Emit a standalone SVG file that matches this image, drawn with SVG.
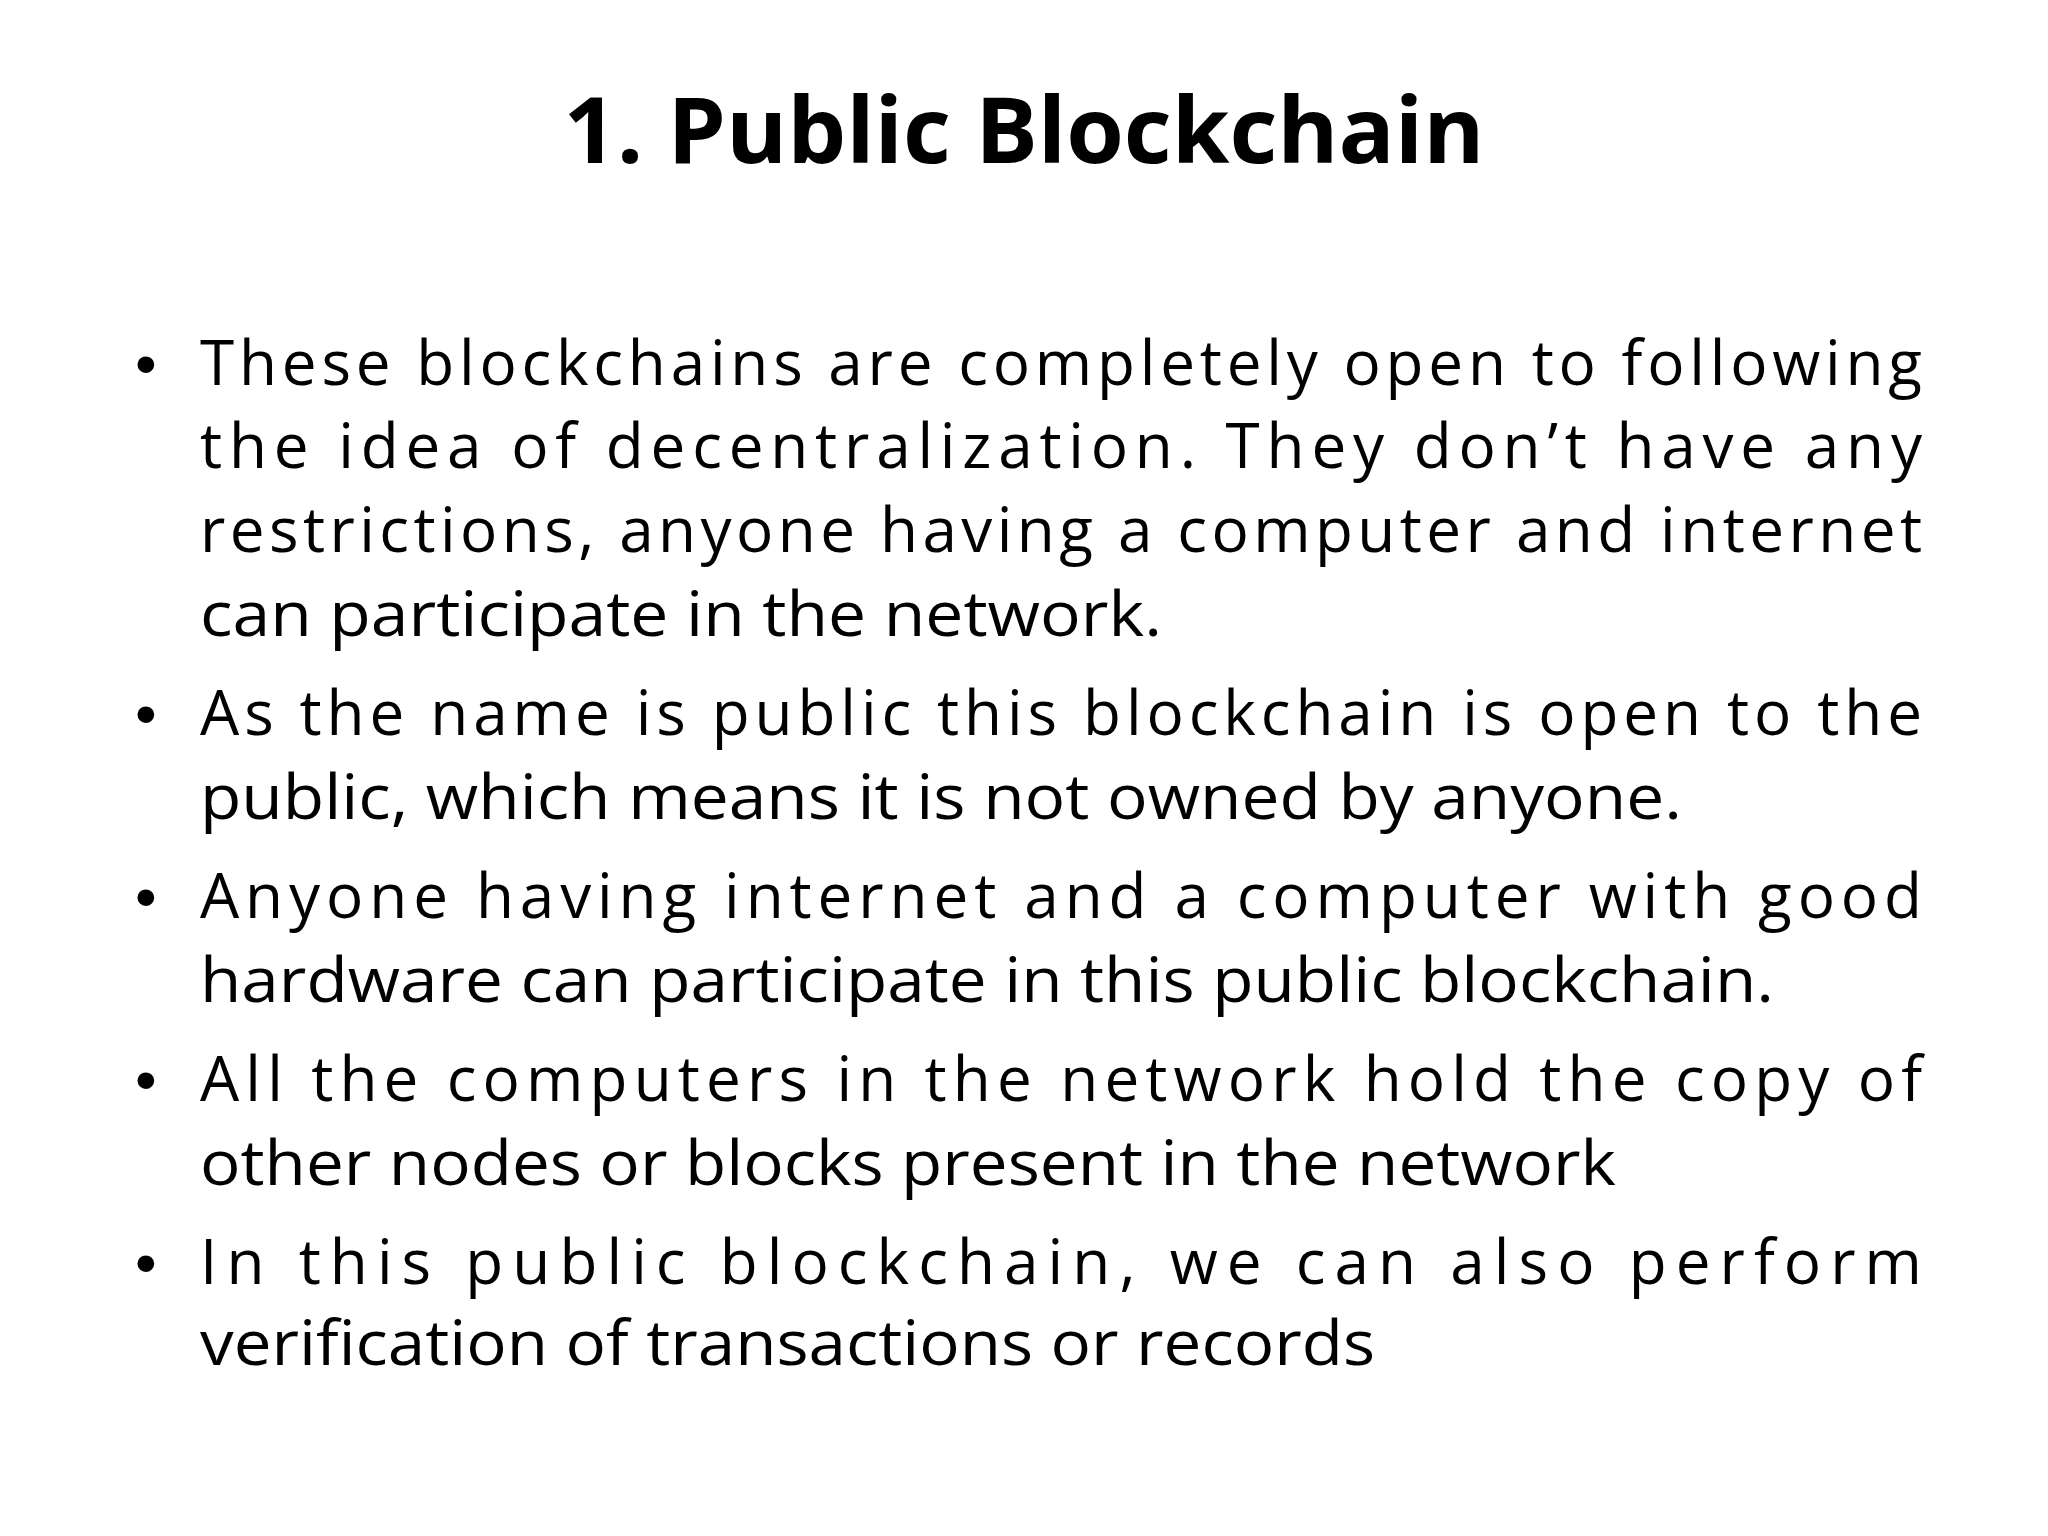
<svg xmlns="http://www.w3.org/2000/svg" width="2048" height="1536" viewBox="0 0 2048 1536">
<style>
.t{font-family:"Open Sans","Liberation Sans",sans-serif;font-size:62px;fill:#000}
.b{font-family:"Liberation Sans",sans-serif;font-size:62px;fill:#000}
</style>
<rect width="2048" height="1536" fill="#fff"/>
<g id="title"><text x="1024" y="163" text-anchor="middle" font-family="Open Sans, Liberation Sans, sans-serif" font-weight="bold" font-size="92" textLength="921" lengthAdjust="spacingAndGlyphs">1. Public Blockchain</text></g>
<g id="bullets">
<text class="b" x="135" y="385">•</text>
<text class="b" x="135" y="735">•</text>
<text class="b" x="135" y="918">•</text>
<text class="b" x="135" y="1101">•</text>
<text class="b" x="135" y="1284">•</text>
</g>
<g id="text">
<text class="t" x="200" y="385" textLength="1722" lengthAdjust="spacing">These blockchains are completely open to following</text>
<text class="t" x="200" y="468" textLength="1722" lengthAdjust="spacing">the idea of decentralization. They don’t have any</text>
<text class="t" x="200" y="552" textLength="1722" lengthAdjust="spacing">restrictions, anyone having a computer and internet</text>
<text class="t" x="200" y="636" textLength="962" lengthAdjust="spacingAndGlyphs">can participate in the network.</text>
<text class="t" x="200" y="735" textLength="1722" lengthAdjust="spacing">As the name is public this blockchain is open to the</text>
<text class="t" x="200" y="819" textLength="1482" lengthAdjust="spacingAndGlyphs">public, which means it is not owned by anyone.</text>
<text class="t" x="200" y="918" textLength="1722" lengthAdjust="spacing">Anyone having internet and a computer with good</text>
<text class="t" x="200" y="1002" textLength="1574" lengthAdjust="spacingAndGlyphs">hardware can participate in this public blockchain.</text>
<text class="t" x="200" y="1101" textLength="1722" lengthAdjust="spacing">All the computers in the network hold the copy of</text>
<text class="t" x="200" y="1185" textLength="1416" lengthAdjust="spacingAndGlyphs">other nodes or blocks present in the network</text>
<text class="t" x="200" y="1284" textLength="1722" lengthAdjust="spacing">In this public blockchain, we can also perform</text>
<text class="t" x="200" y="1365" textLength="1175" lengthAdjust="spacingAndGlyphs">verification of transactions or records</text>
</g>
</svg>
